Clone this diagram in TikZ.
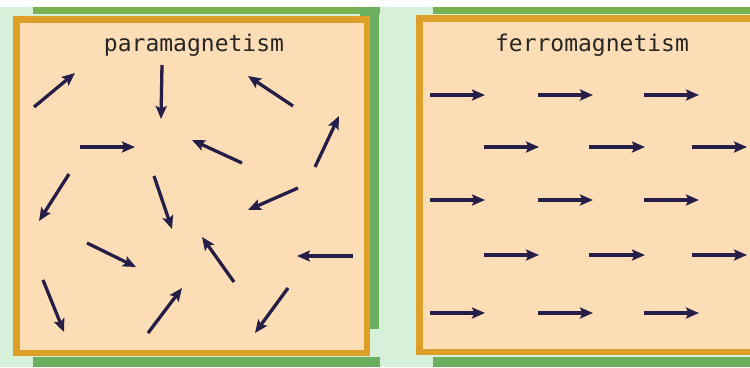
\documentclass[tikz,border=0pt]{standalone}
\usepackage{fontspec}
\setmonofont{DejaVu Sans Mono}
\usetikzlibrary{arrows.meta}
\definecolor{mint}{HTML}{D6F0DA}
\definecolor{grn}{HTML}{6AAF5E}
\definecolor{grntop}{HTML}{78B152}
\definecolor{orng}{HTML}{DE9F2A}
\definecolor{peach}{HTML}{FCDDB5}
\definecolor{navy}{HTML}{241E48}
\tikzset{
  spin/.style={draw=navy, line width=3.3pt, -{Stealth[length=13pt,width=11pt,inset=2.5pt]}},
  panel/.style={draw=orng, fill=peach, line width=6.5pt},
  title/.style={font=\ttfamily\fontsize{23}{23}\selectfont, text=black!85, inner sep=0pt}
}
\begin{document}
\begin{tikzpicture}[x=1pt,y=-1pt]
\useasboundingbox (0,0) rectangle (750,367);
\clip (0,0) rectangle (750,367);
% background
\fill[mint] (0,7) rectangle (750,367);
\fill[white] (0,0) rectangle (750,7);
% left panel green backing
\fill[grntop] (33,7) rectangle (380,14);
\fill[grn] (360,7) rectangle (379,329);
\fill[grn] (33,357) rectangle (380,367);
% right panel green backing
\fill[grntop] (433,7) rectangle (760,14);
\fill[grn] (433,357) rectangle (760,367);
% panels
\node[panel, minimum width=350.5pt, minimum height=333.5pt, anchor=north west, inner sep=0pt] (pleft) at (13.25,16.25) {};
\node[panel, minimum width=360pt, minimum height=333.5pt, anchor=north west, inner sep=0pt] (pright) at (416.25,15.25) {};
% titles
\node[title] (tpara) at (194,45) {paramagnetism};
\node[title] (tferro) at (592,45) {ferromagnetism};
% paramagnetic spins
\draw[spin] (34,107) -- (75,73);
\draw[spin] (162,65) -- (161,119);
\draw[spin] (293,106) -- (248,76);
\draw[spin] (80,147) -- (135,147);
\draw[spin] (242,163) -- (192,140);
\draw[spin] (315,167) -- (339,116);
\draw[spin] (69,174) -- (39,221);
\draw[spin] (154,176) -- (172,229);
\draw[spin] (298,188) -- (248,210);
\draw[spin] (87,243) -- (136,267);
\draw[spin] (234,282) -- (202,237);
\draw[spin] (353,256) -- (297,256);
\draw[spin] (43,280) -- (64,332);
\draw[spin] (148,333) -- (182,288);
\draw[spin] (288,288) -- (255,333);
% ferromagnetic spins
\foreach \y in {95,200,313}{
  \draw[spin] (430,\y) -- (485,\y);
  \draw[spin] (538,\y) -- (593,\y);
  \draw[spin] (644,\y) -- (699,\y);
}
\foreach \y in {147,255}{
  \draw[spin] (484,\y) -- (539,\y);
  \draw[spin] (589,\y) -- (645,\y);
  \draw[spin] (692,\y) -- (747,\y);
}
\end{tikzpicture}
\end{document}
